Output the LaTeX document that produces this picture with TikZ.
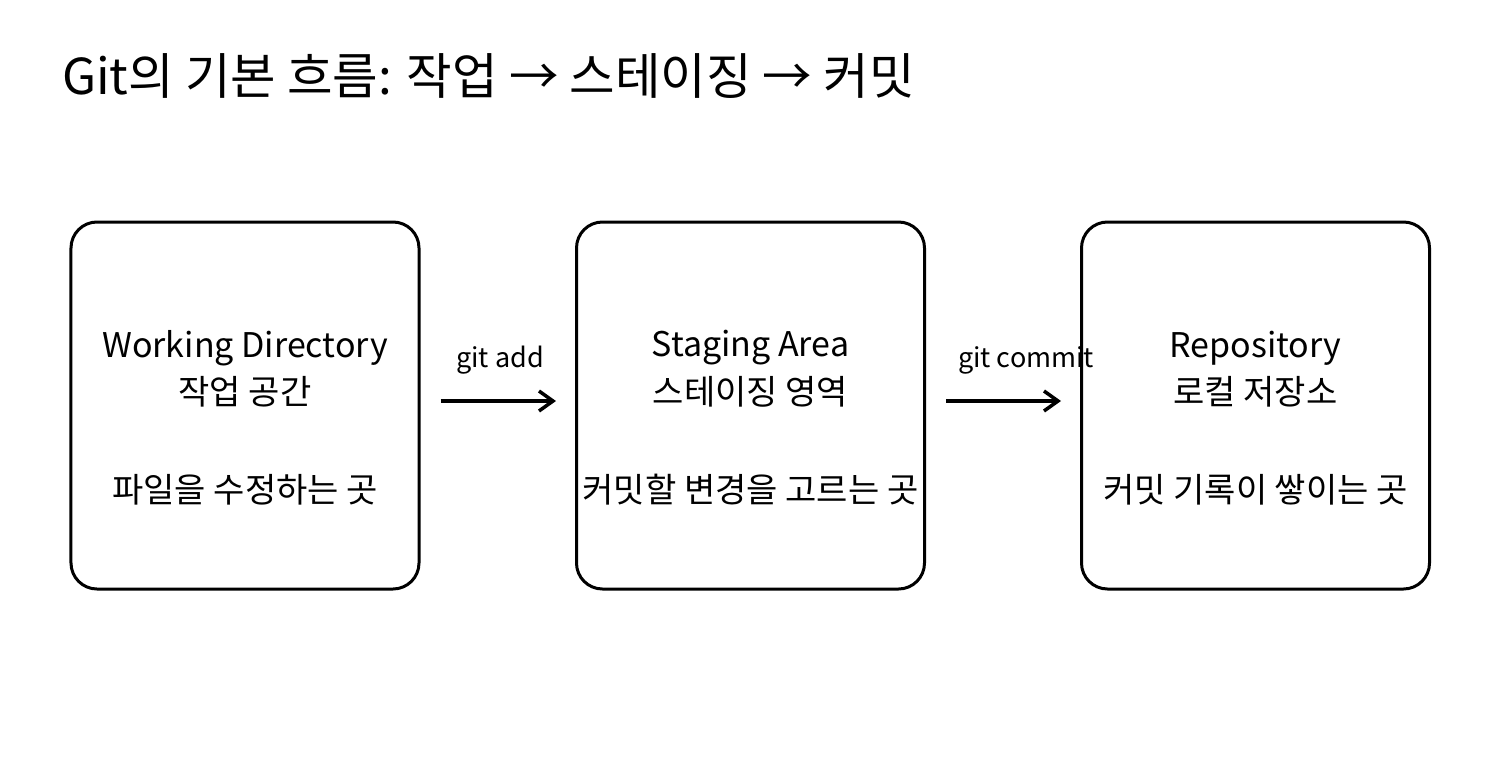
\documentclass[tikz,border=0pt]{standalone}
\usepackage{fontspec}
\setmainfont{Noto Sans CJK KR}
\usetikzlibrary{arrows.meta}

\begin{document}
\begin{tikzpicture}[x=1bp,y=-1bp,line join=round,
  stage/.style={draw,line width=3bp,rounded corners=26bp,minimum width=348bp,minimum height=367bp,inner sep=0pt},
  txt/.style={font=\fontsize{34bp}{40bp}\selectfont,inner sep=0pt},
  cmd/.style={font=\fontsize{27bp}{30bp}\selectfont,inner sep=0pt},
  flow/.style={line width=3.5bp,-{Straight Barb[length=14bp,width=20bp,line width=3.5bp]}},
]
%%
\useasboundingbox (0,0) rectangle (1500,780);
\node (title) at (62,76) [anchor=west,inner sep=0pt,font=\fontsize{49.5bp}{56bp}\selectfont] {Git의 기본 흐름: 작업 → 스테이징 → 커밋};
%
\node (wd) at (245,405.5) [stage] {};
\node (sa) at (750.5,405.5) [stage] {};
\node (repo) at (1255.5,405.5) [stage] {};
%
\node (wd_en) at (245,348) [txt] {Working Directory};
\node (wd_ko) at (245,392) [txt] {작업 공간};
\node (wd_de) at (245,490) [txt] {파일을 수정하는 곳};
\node (sa_en) at (750.5,348) [txt] {Staging Area};
\node (sa_ko) at (750.5,392) [txt] {스테이징 영역};
\node (sa_de) at (750.5,490) [txt] {커밋할 변경을 고르는 곳};
\node (repo_en) at (1255.5,348) [txt] {Repository};
\node (repo_ko) at (1255.5,392) [txt] {로컬 저장소};
\node (repo_de) at (1255.5,490) [txt] {커밋 기록이 쌓이는 곳};
%
\node (add) at (500,360) [cmd] {git add};
\node (commit) at (1026,360) [cmd] {git commit};
\draw [flow,shorten <=20bp,shorten >=19bp] ([yshift=4.5bp]wd.east) -- ([yshift=4.5bp]sa.west);
\draw [flow,shorten <=20bp,shorten >=19bp] ([yshift=4.5bp]sa.east) -- ([yshift=4.5bp]repo.west);
%
\end{tikzpicture}
\end{document}
